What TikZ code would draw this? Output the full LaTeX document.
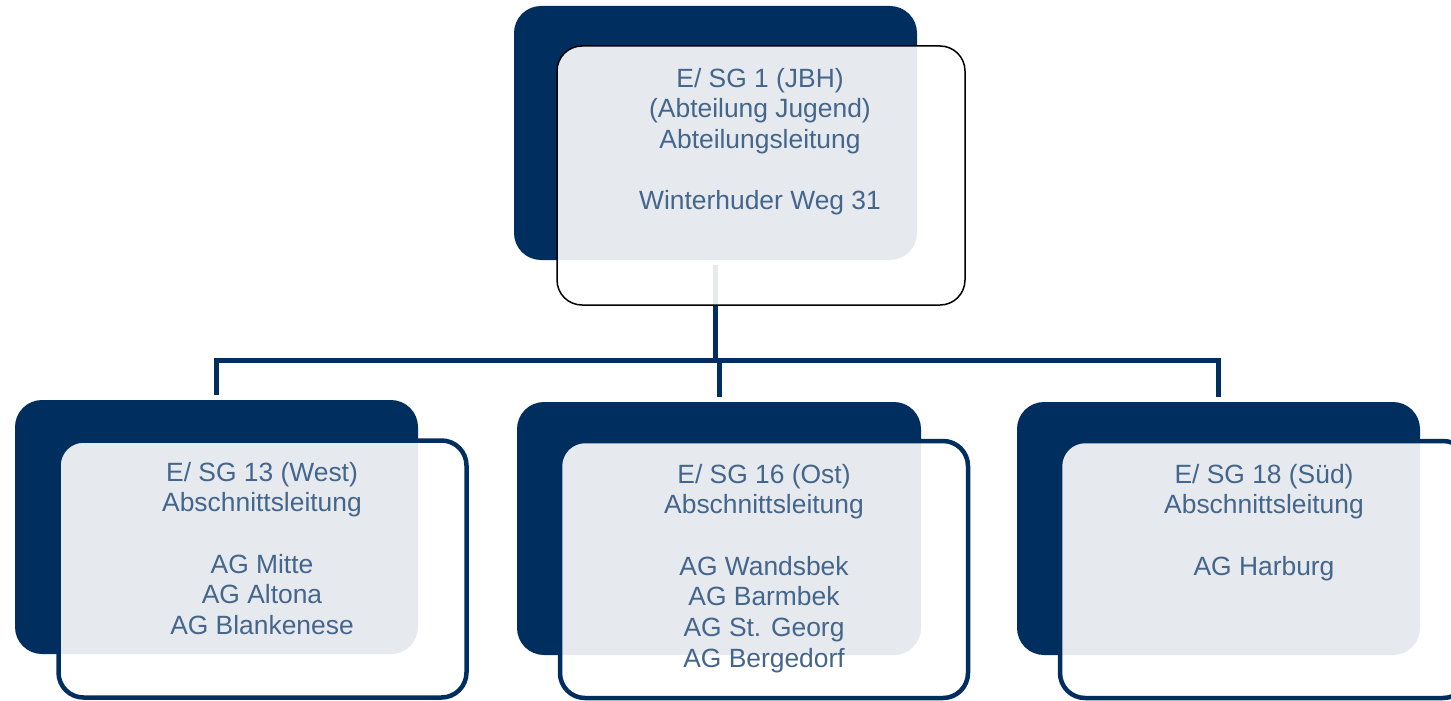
\documentclass[tikz,border=0pt]{standalone}
\usepackage{fontspec}
\setmainfont{Liberation Sans}
\definecolor{navy}{RGB}{0,47,95}
\definecolor{txtblue}{RGB}{68,101,140}
\begin{document}
\begin{tikzpicture}[x=1pt,y=-1pt,
  backbox/.style={rectangle, fill=navy, rounded corners=27pt, anchor=north west, inner sep=0pt, outer sep=0pt},
  frontbox/.style={rectangle, fill=white, fill opacity=0.9, rounded corners=25pt, anchor=north west, inner sep=0pt, outer sep=0pt},
  topframe/.style={frontbox, draw=black, line width=1.5pt},
  lowframe/.style={frontbox, draw=navy, line width=4.5pt},
  conn/.style={draw=navy, line width=5pt},
  boxtext/.style={font=\fontsize{26.4pt}{30.7pt}\selectfont, text=txtblue, align=center, inner sep=0pt, anchor=north}
]
\clip (0,0) rectangle (1451,701);
\fill[white] (0,0) rectangle (1451,701);

% dark back boxes
\node[backbox, minimum width=403pt, minimum height=254pt] (topback) at (514,6) {};
\node[backbox, minimum width=403pt, minimum height=254pt] (leftback) at (15,400) {};
\node[backbox, minimum width=404pt, minimum height=253pt] (midback) at (517,402) {};
\node[backbox, minimum width=403pt, minimum height=253pt] (rightback) at (1017,402) {};

% connectors
\coordinate (hub) at (715.5,360);
\draw[conn] ([yshift=-5pt]topback.south) -- (hub);
\draw[conn] (hub) -| ([yshift=5pt]leftback.north);
\draw[conn] (hub) -| ([yshift=5pt]midback.north);
\draw[conn] (hub) -| ([yshift=5pt]rightback.north);

% front boxes
\node[topframe, minimum width=408pt, minimum height=259pt] (topfront) at (557,46) {};
\node[lowframe, minimum width=408pt, minimum height=257pt] (leftfront) at (58.5,440.5) {};
\node[lowframe, minimum width=408pt, minimum height=257pt] (midfront) at (560,441) {};
\node[lowframe, minimum width=408pt, minimum height=257pt] (rightfront) at (1060,441) {};

% texts
\node[boxtext] (toptext) at (760,67.8) {E/ SG 1 (JBH)\\(Abteilung Jugend)\\Abteilungsleitung\\[30.7pt]Winterhuder Weg 31};
\node[boxtext] (lefttext) at (262,461.8) {E/ SG 13 (West)\\Abschnittsleitung\\[30.7pt]AG Mitte\\AG Altona\\AG Blankenese};
\node[boxtext] (midtext) at (764,463.8) {E/ SG 16 (Ost)\\Abschnittsleitung\\[30.7pt]AG Wandsbek\\AG Barmbek\\AG St. Georg\\AG Bergedorf};
\node[boxtext] (righttext) at (1264,463.8) {E/ SG 18 (Süd)\\Abschnittsleitung\\[30.7pt]AG Harburg};
\end{tikzpicture}
\end{document}
